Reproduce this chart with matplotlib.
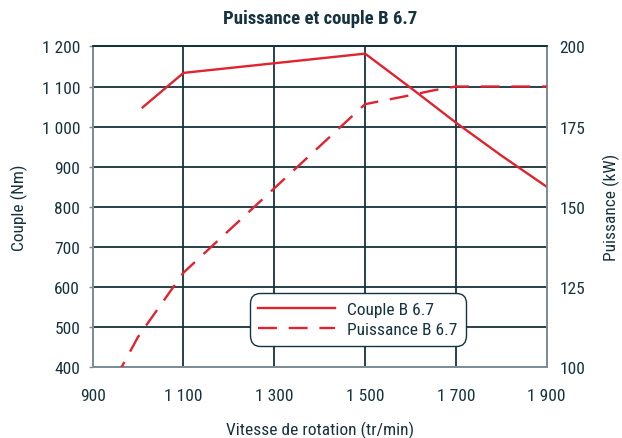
import matplotlib
matplotlib.use("Agg")
import matplotlib.pyplot as plt

# régime (tr/min)
rpm_couple = [1010, 1100, 1300, 1500, 1600, 1700, 1800, 1900]
couple = [1048, 1134, 1158, 1182, 1097, 1010, 928, 850]  # Nm

rpm_puiss = [950, 1000, 1050, 1100, 1300, 1500, 1550, 1600, 1650, 1700, 1800, 1900]
puissance = [96.5, 109.5, 119.5, 129.5, 155.8, 182, 183.4, 184.8, 186.3, 187.5, 187.5, 187.5]  # kW

xticks = [900, 1100, 1300, 1500, 1700, 1900]
xlabels = ["900", "1 100", "1 300", "1 500", "1 700", "1 900"]
yticks = list(range(400, 1201, 100))
ylabels = ["400", "500", "600", "700", "800", "900", "1 000", "1 100", "1 200"]
y2ticks = [100, 125, 150, 175, 200]

navy = "#15323f"
grey = "#7d8d97"
rouge = "#e0232e"

plt.rcParams["font.family"] = ["Roboto Condensed", "DejaVu Sans"]
plt.rcParams["text.color"] = navy
plt.rcParams["axes.labelcolor"] = navy
plt.rcParams["xtick.color"] = navy
plt.rcParams["ytick.color"] = navy

fig = plt.figure(figsize=(6.22, 4.39), dpi=100)
ax = fig.add_axes([0.149, 0.161, 0.730, 0.731])
ax2 = ax.twinx()

ax.plot(rpm_couple, couple, color=rouge, lw=1.7, label="Couple B 6.7", zorder=3)
ax2.plot(rpm_puiss, puissance, color=rouge, lw=1.7, dashes=(8, 5),
         label="Puissance B 6.7", zorder=3)

ax.set_xlim(900, 1900)
ax.set_ylim(400, 1200)
ax2.set_ylim(100, 200)

ax.set_xticks(xticks, xlabels, fontsize=12.5)
ax.set_yticks(yticks, ylabels, fontsize=12.5)
ax2.set_yticks(y2ticks, [str(v) for v in y2ticks], fontsize=12.5)

ax.grid(True, color=navy, lw=1.3)
ax.set_axisbelow(True)
ax.tick_params(axis="x", length=0, pad=15)
ax.tick_params(axis="y", length=3, width=1, color=grey, pad=6)
ax2.tick_params(axis="y", length=0, pad=9)

for a in (ax, ax2):
    for s in ("left", "right", "bottom"):
        a.spines[s].set_color(grey)
        a.spines[s].set_linewidth(1.3)
    a.spines["top"].set_color(navy)
    a.spines["top"].set_linewidth(1.3)

ax.set_xlabel("Vitesse de rotation (tr/min)", fontsize=12.5, labelpad=13)
ax.set_ylabel("Couple (Nm)", fontsize=12.5, labelpad=10)
ax2.set_ylabel("Puissance (kW)", fontsize=12.5, labelpad=13)
ax.set_title("Puissance et couple B 6.7", fontsize=13.5, fontweight="bold", pad=17)

h1, l1 = ax.get_legend_handles_labels()
h2, l2 = ax2.get_legend_handles_labels()
leg = ax2.legend(h1 + h2, l1 + l2, loc="center", bbox_to_anchor=(0.353, 0.063, 0.462, 0.173),
                 fontsize=12.5, handlelength=4.4, handletextpad=0.7, borderpad=0.5,
                 borderaxespad=0, labelspacing=0.3, fancybox=True, framealpha=1, edgecolor=navy)
leg.get_frame().set_linewidth(1.0)
leg.get_frame().set_boxstyle("round", pad=0, rounding_size=0.6)

fig.savefig("out.png", dpi=100)
